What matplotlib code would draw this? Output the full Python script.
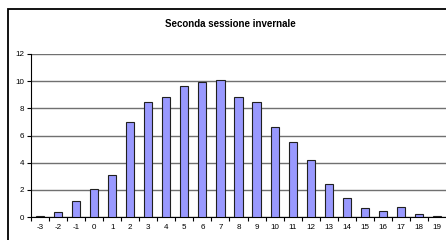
import numpy as np
import matplotlib
matplotlib.use("Agg")
import matplotlib.pyplot as plt
from matplotlib.patches import Rectangle

# Seconda sessione invernale: distribuzione dei voti

voti = list(range(-3, 20))
freq = [0.1, 0.4, 1.15, 2.05, 3.1, 7.0, 8.5, 8.8, 9.65, 9.95, 10.05,
        8.85, 8.5, 6.65, 5.55, 4.2, 2.45, 1.4, 0.65, 0.45, 0.7, 0.2, 0.05]
yticks = [0, 2, 4, 6, 8, 10, 12]

plt.rcParams["font.family"] = ["Liberation Sans", "DejaVu Sans"]

W, H = 446, 240
fig = plt.figure(figsize=(W / 100, H / 100), dpi=100)
fig.patch.set_facecolor("white")

#-- outer chart frame (cut off on right and bottom)
fig.add_artist(Rectangle((8 / W, -0.2), 1.2, 1.2 - 9 / H,
                         transform=fig.transFigure, fill=False,
                         edgecolor="black", linewidth=1.3))

ax = fig.add_axes([31 / W, 1 - 217 / H, (W - 31) / W, (217 - 54) / H])

x = np.arange(len(voti))
ax.bar(x, freq, width=0.45, color="#9999FF", edgecolor="#202020",
       linewidth=0.8, zorder=3)

ax.set_xlim(-0.5, len(voti) - 0.5)
ax.set_ylim(0, 12)
ax.set_yticks(yticks)
ax.set_yticklabels([str(v) for v in yticks], fontsize=5.8)
ax.yaxis.grid(True, color="#707070", linewidth=1.0, zorder=0)

ax.set_xticks(x - 0.5)
ax.set_xticklabels([])
ax.set_xticks(x, minor=True)
ax.set_xticklabels([str(v) for v in voti], minor=True, fontsize=5.8)
ax.tick_params(axis="x", which="major", length=3, width=0.8, direction="out")
ax.tick_params(axis="x", which="minor", length=0, pad=5)
ax.tick_params(axis="y", length=3, width=0.8, pad=2)

for s in ("top", "right"):
    ax.spines[s].set_visible(False)
ax.spines["left"].set_linewidth(0.8)
ax.spines["bottom"].set_linewidth(0.8)

fig.text(230 / W, 1 - 24 / H, "Seconda sessione invernale",
         ha="center", va="center", fontsize=7, fontweight="bold")

fig.savefig("out.png", dpi=100)
